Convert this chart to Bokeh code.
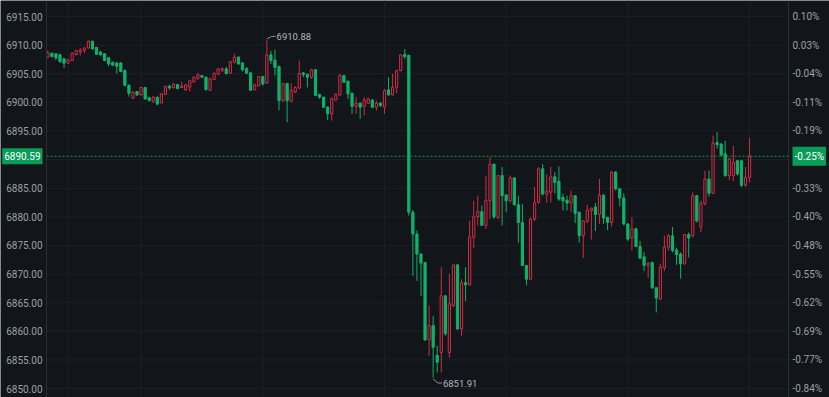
from bokeh.plotting import figure
from bokeh.models import (Range1d, FixedTicker, CustomJSTickFormatter, LinearAxis,
                          Label, ColumnDataSource)
from bokeh.core.properties import value
from bokeh.embed import file_html
from bokeh.resources import INLINE

# ---------------- data ----------------
open_ = [6907.9, 6908.6, 6908.5, 6908.3, 6907.6, 6906.85, 6907.3, 6908.35, 6908.8, 6909.06,
         6909.5, 6910.7, 6909.6, 6908.8, 6908.5, 6907.8, 6907.0, 6906.9, 6906.9, 6905.6,
         6903.0, 6900.75, 6901.9, 6901.3, 6902.6, 6900.8, 6900.2, 6900.9, 6899.9, 6901.4,
         6902.8, 6902.6, 6903.1, 6902.6, 6902.2, 6902.65, 6903.6, 6904.2, 6904.7, 6904.4,
         6902.1, 6904.0, 6904.9, 6905.6, 6905.85, 6905.1, 6907.0, 6907.9, 6906.9, 6905.95,
         6905.15, 6902.2, 6902.9, 6904.5, 6903.4, 6908.3, 6907.4, 6906.25, 6900.3, 6903.3,
         6900.2, 6901.8, 6902.5, 6905.15, 6904.9, 6904.4, 6905.7, 6901.4, 6900.9, 6899.15,
         6898.0, 6900.4, 6901.3, 6904.7, 6903.7, 6901.6, 6899.3, 6899.85, 6899.3, 6899.85,
         6900.4, 6899.15, 6899.85, 6899.15, 6902.2, 6901.3, 6902.64, 6905.56, 6908.35, 6908.2,
         6880.8, 6877.0, 6873.5, 6872.0, 6858.5, 6861.0, 6855.8, 6856.3, 6866.2, 6856.3,
         6864.5, 6871.6, 6860.4, 6868.5, 6868.1, 6876.4, 6880.0, 6880.9, 6878.5, 6882.8,
         6889.2, 6879.9, 6887.2, 6883.8, 6882.8, 6886.8, 6882.1, 6879.0, 6871.5, 6869.1,
         6879.6, 6882.5, 6888.4, 6884.0, 6884.3, 6887.0, 6886.2, 6883.4, 6882.9, 6882.4,
         6883.7, 6880.8, 6876.7, 6879.2, 6881.1, 6881.7, 6880.4, 6883.8, 6879.9, 6879.0,
         6887.8, 6884.9, 6883.3, 6878.75, 6876.3, 6877.9, 6874.8, 6873.0, 6871.5, 6872.05,
         6867.6, 6865.6, 6871.1, 6874.7, 6876.7, 6874.2, 6873.5, 6871.8, 6876.9, 6876.7,
         6883.7, 6878.2, 6882.3, 6886.6, 6884.1, 6893.0, 6892.7, 6891.0, 6887.2, 6887.2,
         6889.8, 6889.8, 6885.5, 6886.9]
high = [6909.06, 6908.7, 6908.6, 6908.5, 6907.7, 6907.6, 6908.7, 6909.2, 6909.5, 6909.64,
        6910.8, 6910.75, 6909.7, 6909.0, 6908.6, 6907.9, 6907.1, 6907.0, 6907.0, 6905.7,
        6903.1, 6901.9, 6902.0, 6902.7, 6902.7, 6900.9, 6901.1, 6901.0, 6901.6, 6902.9,
        6903.1, 6903.35, 6903.2, 6903.6, 6903.2, 6903.9, 6904.5, 6905.1, 6904.8, 6904.5,
        6904.3, 6905.2, 6906.0, 6906.1, 6906.2, 6907.2, 6908.5, 6908.1, 6907.0, 6906.1,
        6905.3, 6903.3, 6904.6, 6904.6, 6910.88, 6909.0, 6909.2, 6906.4, 6903.4, 6903.4,
        6903.34, 6902.8, 6907.3, 6905.3, 6905.0, 6905.85, 6905.8, 6901.5, 6901.0, 6899.3,
        6900.9, 6901.6, 6904.97, 6904.8, 6903.8, 6901.7, 6900.9, 6900.0, 6900.9, 6900.8,
        6900.6, 6900.3, 6900.0, 6902.35, 6904.4, 6905.0, 6905.7, 6908.4, 6909.3, 6908.35,
        6881.2, 6877.6, 6873.6, 6872.1, 6864.5, 6862.7, 6857.5, 6871.2, 6866.3, 6870.0,
        6871.7, 6871.8, 6869.1, 6871.2, 6879.3, 6882.8, 6883.7, 6882.0, 6887.2, 6890.4,
        6889.3, 6887.3, 6888.7, 6884.0, 6887.2, 6886.9, 6883.7, 6882.25, 6871.6, 6879.9,
        6885.2, 6888.7, 6889.2, 6887.5, 6888.7, 6887.8, 6888.8, 6884.0, 6883.7, 6884.6,
        6883.8, 6880.9, 6879.4, 6882.1, 6881.6, 6882.4, 6886.6, 6883.9, 6880.0, 6888.0,
        6888.0, 6885.0, 6884.1, 6878.9, 6879.9, 6878.1, 6875.8, 6873.8, 6872.05, 6872.1,
        6867.7, 6871.8, 6876.7, 6877.0, 6878.2, 6874.6, 6873.8, 6877.0, 6877.3, 6884.3,
        6883.8, 6882.8, 6888.1, 6888.1, 6894.2, 6894.8, 6892.9, 6893.3, 6890.3, 6892.4,
        6889.9, 6889.9, 6888.7, 6893.8]
low = [6907.78, 6907.9, 6907.4, 6907.0, 6906.0, 6906.7, 6907.2, 6908.2, 6908.2, 6908.6,
       6909.35, 6909.2, 6908.3, 6908.2, 6907.2, 6906.3, 6906.4, 6905.0, 6905.3, 6902.8,
       6901.0, 6900.6, 6901.1, 6901.2, 6900.5, 6900.2, 6899.9, 6899.5, 6899.8, 6901.3,
       6902.2, 6902.4, 6902.3, 6902.5, 6902.0, 6901.9, 6903.4, 6903.9, 6904.3, 6902.1,
       6902.0, 6903.9, 6904.8, 6905.3, 6904.9, 6905.0, 6906.8, 6906.6, 6905.4, 6904.9,
       6902.0, 6902.1, 6902.8, 6902.9, 6903.2, 6906.7, 6904.7, 6898.6, 6900.1, 6896.5,
       6900.0, 6901.6, 6902.35, 6904.4, 6902.6, 6904.1, 6901.1, 6900.6, 6899.0, 6896.9,
       6896.8, 6900.3, 6901.2, 6903.4, 6900.6, 6898.0, 6898.0, 6897.1, 6897.7, 6899.7,
       6899.0, 6898.56, 6899.2, 6898.0, 6901.2, 6901.2, 6901.6, 6905.4, 6907.6, 6880.2,
       6869.7, 6868.8, 6866.2, 6858.3, 6855.7, 6851.91, 6852.8, 6852.8, 6859.2, 6855.4,
       6864.2, 6860.3, 6859.2, 6865.3, 6868.0, 6874.6, 6878.5, 6878.4, 6877.9, 6879.6,
       6879.6, 6879.6, 6878.5, 6880.8, 6882.5, 6882.0, 6875.5, 6871.4, 6868.0, 6868.9,
       6879.3, 6882.3, 6883.7, 6882.5, 6882.5, 6884.1, 6882.8, 6881.1, 6881.1, 6880.8,
       6878.9, 6875.5, 6872.8, 6878.9, 6876.0, 6877.5, 6878.75, 6878.75, 6877.7, 6878.3,
       6884.6, 6881.8, 6878.5, 6875.8, 6874.1, 6874.7, 6872.6, 6870.5, 6869.3, 6867.4,
       6863.3, 6865.5, 6870.5, 6874.1, 6873.8, 6871.6, 6869.2, 6871.6, 6872.9, 6876.4,
       6879.0, 6877.3, 6882.0, 6883.5, 6884.0, 6891.9, 6890.5, 6887.0, 6886.4, 6886.2,
       6887.2, 6885.2, 6885.3, 6886.0]
close = [6908.65, 6908.0, 6907.8, 6907.1, 6906.85, 6907.4, 6908.6, 6909.06, 6909.1, 6909.5,
         6910.7, 6909.35, 6908.4, 6908.3, 6907.3, 6906.7, 6906.5, 6906.3, 6905.4, 6903.0,
         6901.6, 6901.8, 6901.3, 6902.6, 6900.6, 6900.3, 6900.9, 6899.7, 6901.5, 6902.8,
         6902.5, 6903.2, 6902.4, 6902.8, 6903.06, 6903.8, 6904.4, 6904.8, 6904.4, 6902.2,
         6904.1, 6905.1, 6905.85, 6905.85, 6905.0, 6907.1, 6907.9, 6906.7, 6905.7, 6905.1,
         6902.1, 6903.05, 6904.5, 6903.2, 6908.3, 6907.3, 6906.1, 6900.3, 6903.3, 6900.3,
         6902.06, 6902.6, 6905.1, 6904.86, 6904.4, 6905.7, 6901.2, 6900.9, 6899.15, 6898.0,
         6900.6, 6901.4, 6904.7, 6903.5, 6901.5, 6899.3, 6899.85, 6899.15, 6900.4, 6900.6,
         6899.15, 6899.85, 6899.44, 6902.06, 6901.3, 6902.64, 6905.56, 6908.3, 6908.0, 6880.8,
         6877.0, 6873.5, 6871.9, 6858.5, 6861.0, 6857.2, 6854.6, 6866.2, 6859.6, 6864.8,
         6871.6, 6860.4, 6868.5, 6868.1, 6876.5, 6880.0, 6880.9, 6878.5, 6882.9, 6889.2,
         6880.0, 6887.2, 6883.7, 6882.8, 6886.8, 6882.1, 6879.0, 6871.5, 6869.1, 6879.6,
         6882.5, 6888.4, 6884.0, 6884.5, 6887.0, 6886.0, 6883.1, 6882.8, 6882.4, 6883.7,
         6880.6, 6876.7, 6879.3, 6881.2, 6881.5, 6880.4, 6883.8, 6879.8, 6879.0, 6887.8,
         6884.9, 6883.3, 6878.75, 6876.1, 6877.9, 6874.8, 6872.8, 6871.5, 6871.9, 6867.6,
         6865.8, 6871.2, 6874.7, 6876.7, 6874.1, 6873.4, 6871.8, 6876.9, 6876.3, 6883.7,
         6879.3, 6882.4, 6886.6, 6884.1, 6892.9, 6892.6, 6890.8, 6887.2, 6890.1, 6889.5,
         6887.5, 6885.5, 6886.9, 6890.59]

prev_close = 6907.9                      # reference close for the % scale
price_ticks = [6850, 6855, 6860, 6865, 6870, 6875, 6880, 6885, 6890, 6895,
               6900, 6905, 6910, 6915]
hidden_tick = 6890                       # label covered by the last-price tag
time_grid_idx = [6, 24, 54, 84, 114, 144, 174]

# ---------------- styling / layout ----------------
BG = "#121519"
GRID = "#1c2026"
AXIS = "#2a2e35"
TXT = "#9ca1aa"
UP = "#d22c45"
DOWN = "#0fb26b"
TAG = "#089d57"
FONT = "Roboto"
W, H = 829, 397
LEFT, RIGHT = 46, 41                      # widths of the price / percent scales
X0, X1 = 0.68, 183.6                      # candle area (bar index units)
Y0, Y1 = 6848.43, 6917.8
per_px = (X1 - X0) / (W - LEFT - RIGHT)

idx = list(range(1, len(close) + 1))
up = [c >= o for o, c in zip(open_, close)]


def subset(mask):
    return ColumnDataSource(dict(
        x=[i for i, m in zip(idx, mask) if m],
        hi=[h for h, m in zip(high, mask) if m],
        lo=[l for l, m in zip(low, mask) if m],
        top=[max(o, c) for o, c, m in zip(open_, close, mask) if m],
        bot=[min(o, c) for o, c, m in zip(open_, close, mask) if m],
    ))


src_up = subset(up)
src_dn = subset([not u for u in up])

p = figure(width=W, height=H, output_backend="svg", toolbar_location=None,
           x_range=Range1d(X0 - LEFT * per_px, X1 + RIGHT * per_px),
           y_range=Range1d(Y0, Y1),
           x_axis_location=None, y_axis_location="left",
           min_border_left=0, min_border_right=0, min_border_top=0, min_border_bottom=0,
           background_fill_color=BG, border_fill_color=BG, outline_line_color=None)

fmt_price = CustomJSTickFormatter(args=dict(hide=hidden_tick),
                                  code="return Math.abs(tick - hide) < 1e-6 ? '' : tick.toFixed(2);")
fmt_pct = CustomJSTickFormatter(args=dict(prev=prev_close, hide=hidden_tick),
                                code="return Math.abs(tick - hide) < 1e-6 ? '' : ((tick / prev - 1) * 100).toFixed(2) + '%';")

lax = p.yaxis[0]
lax.ticker = FixedTicker(ticks=price_ticks)
lax.formatter = fmt_price
lax.fixed_location = X0
rax = LinearAxis(ticker=FixedTicker(ticks=price_ticks), formatter=fmt_pct, fixed_location=X1)
p.add_layout(rax, "right")

for ax in [lax, rax]:
    ax.major_tick_out = 0
    ax.major_tick_in = 0
    ax.minor_tick_out = 0
    ax.minor_tick_in = 0
    ax.major_label_standoff = 4
    ax.axis_line_color = AXIS
    ax.major_label_text_color = TXT
    ax.major_label_text_font = FONT
    ax.major_label_text_font_size = "10px"

# grid: horizontal lines only across the candle area, vertical time lines
p.ygrid.visible = False
p.segment(x0=[X0] * len(price_ticks), x1=[X1] * len(price_ticks), y0=price_ticks, y1=price_ticks,
          line_color=GRID, line_width=1)
p.segment(x0=time_grid_idx, x1=time_grid_idx, y0=[Y0] * len(time_grid_idx),
          y1=[Y1] * len(time_grid_idx), line_color=GRID, line_width=1)
p.xgrid.visible = False

# candles
p.segment(x0="x", y0="lo", x1="x", y1="hi", source=src_dn, line_color=DOWN, line_width=1)
p.segment(x0="x", y0="lo", x1="x", y1="hi", source=src_up, line_color=UP, line_width=1)
p.vbar(x="x", width=0.55, top="top", bottom="bot", source=src_dn,
       fill_color=DOWN, line_color=DOWN, line_width=1)
p.vbar(x="x", width=0.55, top="top", bottom="bot", source=src_up,
       fill_color=BG, line_color=UP, line_width=1)

# high / low annotations
hi_i = high.index(max(high))
lo_i = low.index(min(low))
hx, hy = idx[hi_i], high[hi_i]
lx, ly = idx[lo_i], low[lo_i]
p.line([hx, hx + 1.2, hx + 2.2], [hy + 0.2, hy + 0.65, hy + 0.65], line_color="#8d929a", line_width=1)
p.text([hx + 2.4], [hy + 0.65], text=[f"{hy:.2f}"], text_font_size="9.5px",
       text_color="#b3b7bf", text_baseline="middle", text_align="left", text_font=value(FONT))
p.line([lx, lx + 1.2, lx + 2.2], [ly - 0.25, ly - 0.95, ly - 0.95], line_color="#8d929a", line_width=1)
p.text([lx + 2.4], [ly - 1.0], text=[f"{ly:.2f}"], text_font_size="9.5px",
       text_color="#b3b7bf", text_baseline="middle", text_align="left", text_font=value(FONT))

# last price line and tags
last = close[-1]
p.segment(x0=[X0], x1=[X1], y0=[last], y1=[last], line_color=TAG, line_dash="2 2", line_width=1)
p.add_layout(Label(x=X1, y=last, x_offset=4, text=f"{(last / prev_close - 1) * 100:.2f}%",
                   text_align="left", text_baseline="middle",
                   text_color="#ffffff", text_font=FONT, text_font_size="10px",
                   background_fill_color=TAG, padding=(2, 4)))
p.add_layout(Label(x=X0, y=last, x_offset=-4, text=f"{last:.2f}",
                   text_align="right", text_baseline="middle",
                   text_color="#ffffff", text_font=FONT, text_font_size="10px",
                   background_fill_color=TAG, padding=(2, 4)))

open("out.html", "w").write(file_html(p, INLINE))
